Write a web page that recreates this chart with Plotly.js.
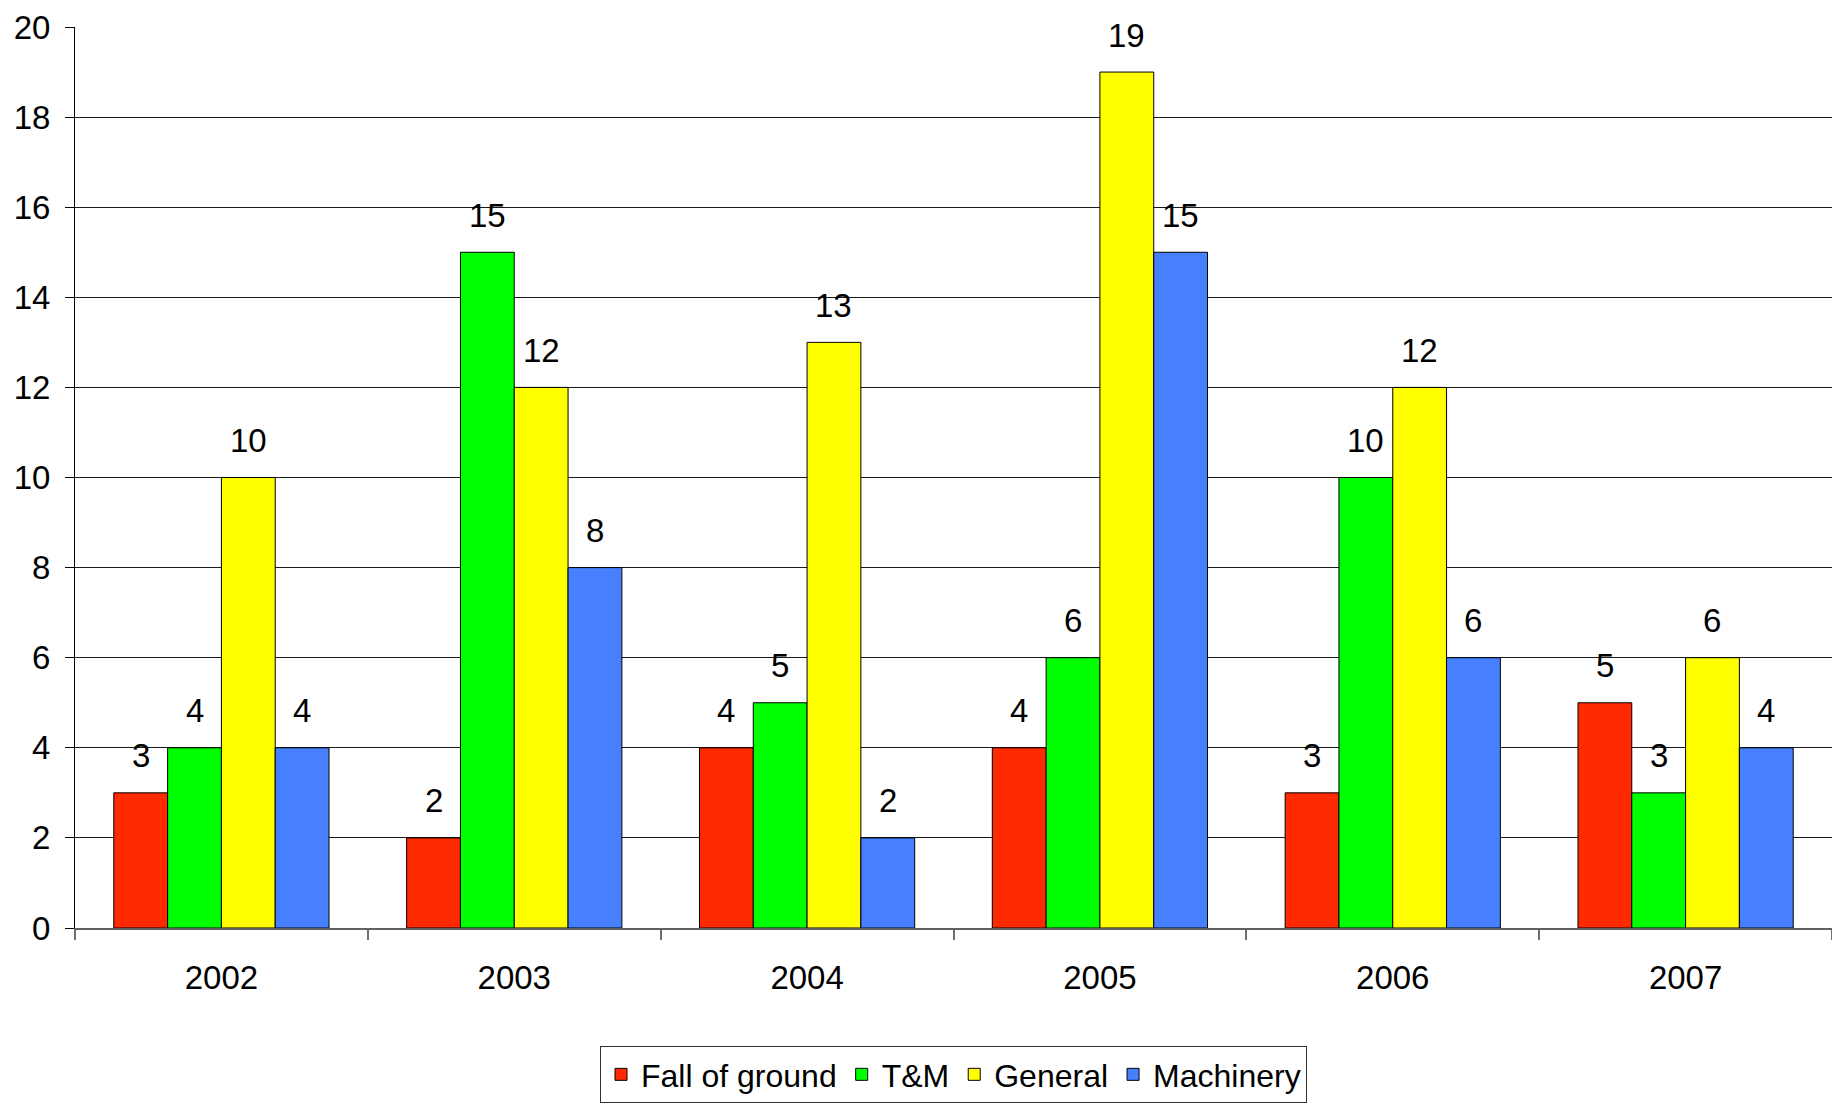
<!DOCTYPE html>
<html>
<head>
<meta charset="utf-8">
<script src="https://cdn.plot.ly/plotly-3.0.1.min.js"></script>
<style>
html, body { margin: 0; padding: 0; background: #ffffff; }
#chart { width: 1832px; height: 1106px; }
</style>
</head>
<body>
<div id="chart"></div>
<script>
// ---- data ----
var years = ['2002', '2003', '2004', '2005', '2006', '2007'];
var seriesNames = ['Fall of ground', 'T&M', 'General', 'Machinery'];
var fallOfGround = [3, 2, 4, 4, 3, 5];
var tAndM = [4, 15, 5, 6, 10, 3];
var general = [10, 12, 13, 19, 12, 6];
var machinery = [4, 8, 2, 15, 6, 4];
var yTickValues = [0, 2, 4, 6, 8, 10, 12, 14, 16, 18, 20];

// ---- styles ----
var seriesValues = [fallOfGround, tAndM, general, machinery];
var colors = ['#FF2A00', '#00FF00', '#FFFF00', '#4680FF'];
var bargap = 0.265;
var baseFont = 'Liberation Sans, Arial, sans-serif';

var traces = seriesValues.map(function (vals, i) {
  return {
    type: 'bar',
    name: seriesNames[i],
    x: years,
    y: vals,
    marker: { color: colors[i], line: { color: '#000000', width: 1 } },
    hoverinfo: 'skip'
  };
});

// value labels above each bar, positioned from the data
var nSeries = seriesValues.length;
var barFrac = (1 - bargap) / nSeries;
var annotations = [];
seriesValues.forEach(function (vals, i) {
  vals.forEach(function (v, j) {
    annotations.push({
      xref: 'x', yref: 'y',
      x: j + (i - (nSeries - 1) / 2) * barFrac,
      y: v,
      text: String(v),
      showarrow: false,
      yanchor: 'middle',
      yshift: 37,
      font: { family: baseFont, size: 33, color: '#000000' }
    });
  });
});

var layout = {
  width: 1832,
  height: 1106,
  margin: { l: 75, r: 0, t: 27, b: 178, pad: 0 },
  paper_bgcolor: '#ffffff',
  plot_bgcolor: '#ffffff',
  barmode: 'group',
  bargap: bargap,
  bargroupgap: 0,
  showlegend: true,
  font: { family: baseFont, size: 33, color: '#000000' },
  xaxis: {
    type: 'category',
    range: [-0.5, 5.5],
    showgrid: false,
    showline: true,
    linecolor: '#606060',
    linewidth: 2,
    ticks: 'outside',
    tickson: 'boundaries',
    ticklen: 10,
    tickcolor: '#707070',
    tickwidth: 2,
    ticklabelstandoff: 19,
    tickfont: { family: baseFont, size: 33, color: '#000000' },
    fixedrange: true
  },
  yaxis: {
    range: [0, 20],
    tickvals: yTickValues,
    ticktext: yTickValues.map(String),
    showgrid: true,
    gridcolor: '#1a1a1a',
    gridwidth: 1,
    zeroline: false,
    showline: true,
    linecolor: '#000000',
    linewidth: 1,
    ticks: 'outside',
    ticklen: 9,
    tickcolor: '#000000',
    ticklabelstandoff: 8,
    tickfont: { family: baseFont, size: 33, color: '#000000' },
    fixedrange: true
  },
  legend: {
    orientation: 'h',
    x: 0.5,
    xanchor: 'center',
    y: -0.131,
    yanchor: 'top',
    bordercolor: '#333333',
    borderwidth: 1,
    bgcolor: '#ffffff',
    font: { family: baseFont, size: 32, color: '#000000' },
    itemwidth: 30,
    tracegroupgap: 0
  },
  annotations: annotations
};

Plotly.newPlot('chart', traces, layout, { displayModeBar: false, staticPlot: true });
</script>
</body>
</html>
